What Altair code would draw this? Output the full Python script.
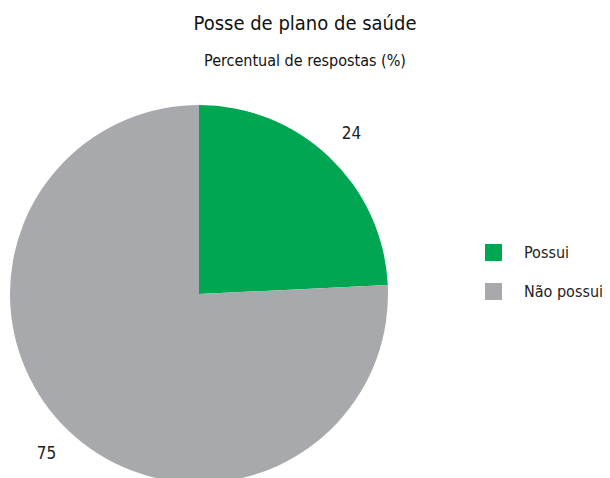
import altair as alt
import pandas as pd

categorias = ["Possui", "Não possui"]
valores = [24, 75]
ordem = [1, 2]
cores = ["#00A651", "#A7A9AC"]

df = pd.DataFrame({"categoria": categorias, "valor": valores, "ordem": ordem})

FONT = "DejaVu Sans Condensed, Roboto, sans-serif"

base = alt.Chart(df).encode(
    theta=alt.Theta("valor:Q", stack=True),
    order=alt.Order("ordem:Q"),
    x=alt.value(191),
    y=alt.value(191),
)

pie = base.mark_arc(radius=189).encode(
    color=alt.Color(
        "categoria:N",
        scale=alt.Scale(domain=categorias, range=cores),
        legend=alt.Legend(
            title=None,
            orient="none",
            legendX=477,
            legendY=141,
            symbolType="square",
            symbolSize=289,
            symbolStrokeWidth=0,
            labelFontSize=16,
            labelFont=FONT,
            labelColor="#222222",
            labelOffset=22,
            rowPadding=22,
        ),
    )
)

labels = base.mark_text(radius=221, fontSize=17, font=FONT, color="#222222").encode(
    text=alt.Text("valor:Q")
)

chart = (
    alt.layer(pie, labels)
    .properties(
        width=594,
        height=375,
        padding={"left": 0, "top": 95, "right": 0, "bottom": 0},
        autosize=alt.AutoSizeParams(type="none"),
        title=alt.TitleParams(
            text="Posse de plano de saúde",
            subtitle="Percentual de respostas (%)",
            anchor="middle",
            font=FONT,
            fontSize=20,
            fontWeight="normal",
            color="#111111",
            subtitleFont=FONT,
            subtitleFontSize=16,
            subtitleColor="#111111",
            subtitlePadding=19,
            offset=34,
        ),
    )
    .configure_view(stroke=None)
)

chart.save("out.html", embed_options={"renderer": "svg", "actions": False})
